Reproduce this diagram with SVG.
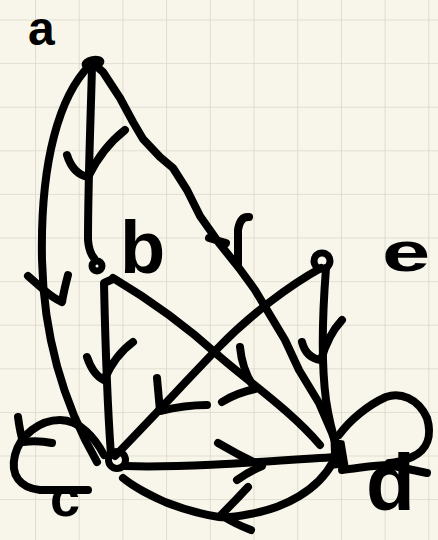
<svg xmlns="http://www.w3.org/2000/svg" width="438" height="540" viewBox="0 0 438 540">
<defs>
<pattern id="grid" patternUnits="userSpaceOnUse" x="35" y="19.5" width="43.7" height="43.6">
<path d="M0,0 V43.6 M0,0 H43.7" fill="none" stroke="#d9d7ca" stroke-width="1.6"/>
</pattern>
<style>
.s{fill:none;stroke:#000;stroke-width:8;stroke-linecap:round;stroke-linejoin:round}
.n{fill:none;stroke:#000;stroke-width:7}
.f{fill:#000;stroke:#000;stroke-width:3;stroke-linejoin:round}
.t{font-family:"Liberation Sans",Arial,sans-serif;font-weight:bold;fill:#000}
</style>
</defs>
<rect width="438" height="540" fill="#f8f6ea"/>
<rect width="438" height="540" fill="url(#grid)"/>

<g id="connectors">
<!-- a->b -->
<path class="s" d="M92,66 C91,110 88,180 88,240 Q89,252 94,258"/>
<path class="s" d="M67,155 Q73,174 88,177 Q102,148 125,130"/>
<!-- a->c -->
<path class="s" d="M90,65 C60,95 40,160 42,260 C44,350 70,415 97,462"/>
<path class="s" d="M28,276 L44,290 Q53,298 62,302 Q64,290 68,275"/>
<!-- a->d -->
<polyline class="s" points="95,65 103,72 120,98 133,122 143,139 160,157 173,168 187,190 200,216 219,243 239,268 255,290 270,315 285,340 299,370 319,403 332,433 338,450"/>
<path class="s" d="M238,264 L238,230 Q240,216 249,217"/>
<path class="s" d="M209,238 L226,243"/>
<!-- e->d -->
<path class="s" d="M326,268 C322,320 322,370 326,400 C329,420 333,435 337,447"/>
<path class="s" d="M302,342 Q306,358 321,360 Q328,335 342,320"/>
<!-- e->c -->
<path class="s" d="M321,268 C290,285 250,315 219,347 C190,377 150,420 115,456"/>
<path class="s" d="M157,378 L160,411 Q185,405 207,405"/>
<!-- b->c -->
<path class="s" d="M113,279 L104,283 C105,330 107,400 111,455"/>
<path class="s" d="M87,357 Q93,375 104,380 Q115,355 133,342"/>
<!-- b->d -->
<path class="s" d="M113,278 C150,300 185,325 219,356 C250,383 290,410 320,445"/>
<path class="s" d="M240,347 Q242,370 255,389 Q236,393 222,402"/>
<!-- c->d -->
<path class="s" d="M125,466 C180,468 260,462 336,457"/>
<path class="s" d="M218,443 Q240,456 262,466 Q248,472 237,480"/>
<!-- d->c -->
<path class="s" d="M333,462 C318,490 285,508 250,514 C235,517 225,518 219,517 C200,514 180,508 165,502 C150,495 135,488 123,478"/>
<path class="s" d="M248,487 Q236,500 221,515 Q235,524 251,530"/>
<!-- c->c loop -->
<path class="s" d="M104,455 C95,438 80,420 60,420 C40,420 20,435 15,455 C10,475 20,488 40,490 L88,490"/>
<path class="s" d="M18,417 Q20,432 23,442 Q38,440 52,443"/>
<!-- d->d loop -->
<path class="s" d="M339,435 C350,420 368,405 386,397 C400,392 418,398 427,418 C432,435 428,450 412,457 C405,460 395,463 389,463"/>
<path class="s" d="M342,470 C360,468 375,465 389,465 L427,473"/>
</g>

<g id="node-a">
<ellipse class="f" cx="93" cy="63" rx="10" ry="5.5" transform="rotate(-12 93 63)"/>
<text class="t" x="28" y="45" font-size="48">a</text>
</g>
<g id="node-b">
<circle class="n" cx="97" cy="266" r="5"/>
<text class="t" x="120" y="273" font-size="74">b</text>
</g>
<g id="node-e">
<circle class="n" cx="322" cy="261" r="8" stroke-width="8"/>
<text class="t" transform="translate(382,271) scale(1.55,1)" font-size="56">e</text>
</g>
<g id="node-c">
<circle class="n" cx="117" cy="460" r="8.5"/>
<text class="t" x="50" y="516" font-size="54">c</text>
</g>
<g id="node-d">
<path class="f" d="M332,440 L343,442 L347,466 L333,467 Z"/>
<text class="t" x="366" y="510" font-size="80">d</text>
</g>
</svg>
